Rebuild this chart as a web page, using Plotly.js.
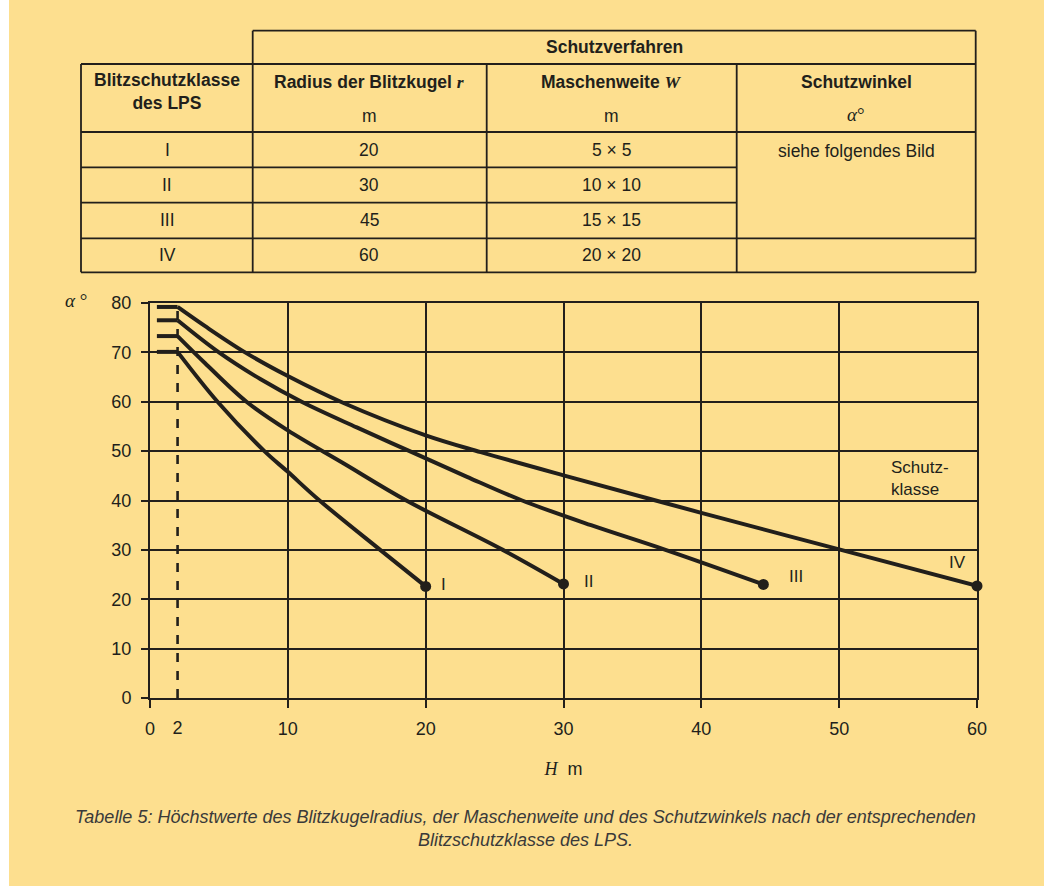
<!DOCTYPE html>
<html>
<head>
<meta charset="utf-8">
<script src="https://cdn.plot.ly/plotly-3.0.1.min.js"></script>
<style>
  html, body { margin: 0; padding: 0; background: #ffffff; }
  #chart { width: 1044px; height: 886px; }
</style>
</head>
<body>
<div id="chart"></div>
<script>
// ---------- Table data ----------
const classes = ['I', 'II', 'III', 'IV'];
const radius = ['20', '30', '45', '60'];
const meshWidth = ['5 × 5', '10 × 10', '15 × 15', '20 × 20'];

// ---------- Chart data (H in m, alpha in degrees) ----------
const H_I   = [0.5, 2, 4.9, 8.3, 10, 12.3, 16.7, 20];
const A_I   = [70.1, 70.1, 60, 50, 45.8, 40, 30, 22.6];

const H_II  = [0.5, 2, 4, 7, 10, 14, 18.6, 25.6, 30];
const A_II  = [73.3, 73.3, 67.8, 60, 54.2, 47.6, 40, 30, 23.1];

const H_III = [0.5, 2, 5, 8, 11, 15, 19, 23, 27, 32, 37.4, 44.5];
const A_III = [76.5, 76.5, 70, 64.6, 60, 54.8, 49.8, 44.8, 40, 35, 30, 23];

const H_IV  = [0.5, 2, 4, 6.9, 10, 14, 20, 24, 30, 40, 50, 60];
const A_IV  = [79.2, 79.2, 75.3, 70, 65.2, 59.8, 53.2, 49.8, 45.1, 37.5, 30.1, 22.7];

const H_MIN = 2;            // dashed reference height
const xTicks = [0, 10, 20, 30, 40, 50, 60];
const yTicks = [0, 10, 20, 30, 40, 50, 60, 70, 80];

// ---------- styling ----------
const INK = '#221f1b';
const BG = '#fddf8f';
const SANS = 'Liberation Sans, Arial, Helvetica, sans-serif';
const SERIF = 'Liberation Serif, Times New Roman, serif';

// pixel -> paper helpers for layout-only positioning (table, captions)
const L = 150, R = 977, T = 303, B = 698;
const PX = x => (x - L) / (R - L);
const PY = y => (B - y) / (B - T);

const series = [
  {name: 'I', x: H_I, y: A_I},
  {name: 'II', x: H_II, y: A_II},
  {name: 'III', x: H_III, y: A_III},
  {name: 'IV', x: H_IV, y: A_IV}
];

const traces = [];
series.forEach(s => {
  // horizontal stub up to H = 2
  traces.push({
    type: 'scatter', mode: 'lines', x: s.x.slice(0, 2), y: s.y.slice(0, 2),
    line: {color: INK, width: 4}, hoverinfo: 'skip', showlegend: false
  });
  // curve from H = 2 onward
  traces.push({
    type: 'scatter', mode: 'lines', x: s.x.slice(1), y: s.y.slice(1),
    line: {color: INK, width: 4, shape: 'spline', smoothing: 1},
    hoverinfo: 'skip', showlegend: false
  });
  traces.push({
    type: 'scatter', mode: 'markers', cliponaxis: false,
    x: [s.x[s.x.length - 1]], y: [s.y[s.y.length - 1]],
    marker: {color: INK, size: 11}, hoverinfo: 'skip', showlegend: false
  });
});
// dashed reference line at H = 2 (on overlay axis that carries the "2" tick label)
traces.push({
  type: 'scatter', mode: 'lines', x: [H_MIN, H_MIN], y: [0, 80], xaxis: 'x2',
  line: {color: INK, width: 2.6, dash: 'dash'}, hoverinfo: 'skip', showlegend: false
});

// ---------- table shapes ----------
const line = (x0, y0, x1, y1) => ({
  type: 'line', xref: 'paper', yref: 'paper',
  x0: PX(x0), y0: PY(y0), x1: PX(x1), y1: PY(y1),
  line: {color: INK, width: 1.8}
});
const tL = 81, c1 = 252.7, c2 = 486.7, c3 = 736.7, tR = 975.7;
const yTop = 30.7, yH = 64, yH2 = 132, rows = [167.3, 202.7, 238.3], yBot = 272.3;
const shapes = [
  {type: 'rect', xref: 'paper', yref: 'paper', x0: PX(0), x1: PX(9), y0: PY(886), y1: PY(0),
   fillcolor: '#ffffff', line: {width: 0}, layer: 'below'},
  line(c1, yTop, tR, yTop),
  line(tL, yH, tR, yH),
  line(tL, yH2, tR, yH2),
  line(tL, rows[0], c3, rows[0]),
  line(tL, rows[1], c3, rows[1]),
  line(tL, rows[2], tR, rows[2]),
  line(tL, yBot, tR, yBot),
  line(tL, yH, tL, yBot),
  line(c1, yTop, c1, yBot),
  line(c2, yH, c2, yBot),
  line(c3, yH, c3, yBot),
  line(tR, yTop, tR, yBot)
];

// ---------- annotations ----------
const FS = 17.5;
const ann = (x, y, text, opts = {}) => Object.assign({
  xref: 'paper', yref: 'paper', x: PX(x), y: PY(y), text: text,
  showarrow: false, xanchor: 'center', yanchor: 'middle',
  font: {family: SANS, size: FS, color: INK}
}, opts);
const bold = {family: SANS, size: FS, color: INK, weight: 'bold'};
const lab = (x, y, text, opts = {}) => Object.assign({
  xref: 'x', yref: 'y', x: x, y: y, text: text, showarrow: false,
  xanchor: 'center', yanchor: 'middle', font: {family: SANS, size: 17, color: INK}
}, opts);

const annotations = [
  ann(614, 47, 'Schutzverfahren', {font: bold}),
  ann(167, 91, 'Blitzschutzklasse<br>des LPS', {font: bold}),
  ann(369, 82, 'Radius der Blitzkugel <span style="font-family:Liberation Serif"><i>r</i></span>', {font: bold}),
  ann(369, 116, 'm'),
  ann(611, 82, 'Maschenweite <span style="font-family:Liberation Serif"><i>W</i></span>', {font: bold}),
  ann(611, 116, 'm'),
  ann(856, 82, 'Schutzwinkel', {font: bold}),
  ann(856, 115, '<i>α</i>°', {font: {family: SERIF, size: 19, color: INK}}),
  ann(856, 151, 'siehe folgendes Bild'),
  // axis label alpha
  ann(76, 300, '<i>α</i> °', {font: {family: SERIF, size: 19, color: INK}}),
  // caption
  ann(525, 828, '<i>Tabelle 5: Höchstwerte des Blitzkugelradius, der Maschenweite und des Schutzwinkels nach der entsprechenden<br>Blitzschutzklasse des LPS.</i>',
      {font: {family: SANS, size: 18, color: '#3a3a3a'}}),
  // curve labels (data coords)
  lab(21.3, 22.9, 'I'),
  lab(31.8, 23.5, 'II'),
  lab(46.9, 24.7, 'III'),
  lab(58.6, 27.5, 'IV'),
  lab(53.6, 44.5, 'Schutz-<br>klasse', {xanchor: 'left', align: 'left'})
];
classes.forEach((c, i) => {
  const yc = [150, 185, 220, 255][i];
  annotations.push(ann(167, yc, c));
  annotations.push(ann(369, yc, radius[i]));
  annotations.push(ann(611, yc, meshWidth[i]));
});

const axisCommon = {
  color: INK, showgrid: true, gridcolor: INK, gridwidth: 2,
  showline: true, linecolor: INK, linewidth: 2, mirror: true,
  zeroline: false, ticks: 'outside', tickcolor: INK, tickwidth: 2,
  tickfont: {family: SANS, size: 18, color: INK}, fixedrange: true
};

const layout = {
  width: 1044, height: 886, autosize: false,
  margin: {l: L, r: 1044 - R, t: T, b: 886 - B, pad: 0},
  paper_bgcolor: BG, plot_bgcolor: 'rgba(0,0,0,0)',
  showlegend: false,
  xaxis: Object.assign({}, axisCommon, {
    range: [0, 60], tickvals: xTicks, ticklen: 8, ticklabelstandoff: 5,
    title: {text: '<span style="font-family:Liberation Serif"><i>H</i></span>  m',
            font: {family: SANS, size: 18, color: INK}, standoff: 25}
  }),
  xaxis2: {
    overlaying: 'x', anchor: 'y', side: 'bottom', range: [0, 60],
    tickvals: [H_MIN], ticks: 'outside', ticklen: 8, tickcolor: 'rgba(0,0,0,0)',
    ticklabelstandoff: 5,
    showgrid: false, showline: false, zeroline: false,
    tickfont: {family: SANS, size: 18, color: INK}, fixedrange: true
  },
  yaxis: Object.assign({}, axisCommon, {
    range: [0, 80], tickvals: yTicks, ticklen: 7, ticklabelstandoff: 6
  }),
  shapes: shapes,
  annotations: annotations
};

Plotly.newPlot('chart', traces, layout, {displayModeBar: false, staticPlot: true});
</script>
</body>
</html>
